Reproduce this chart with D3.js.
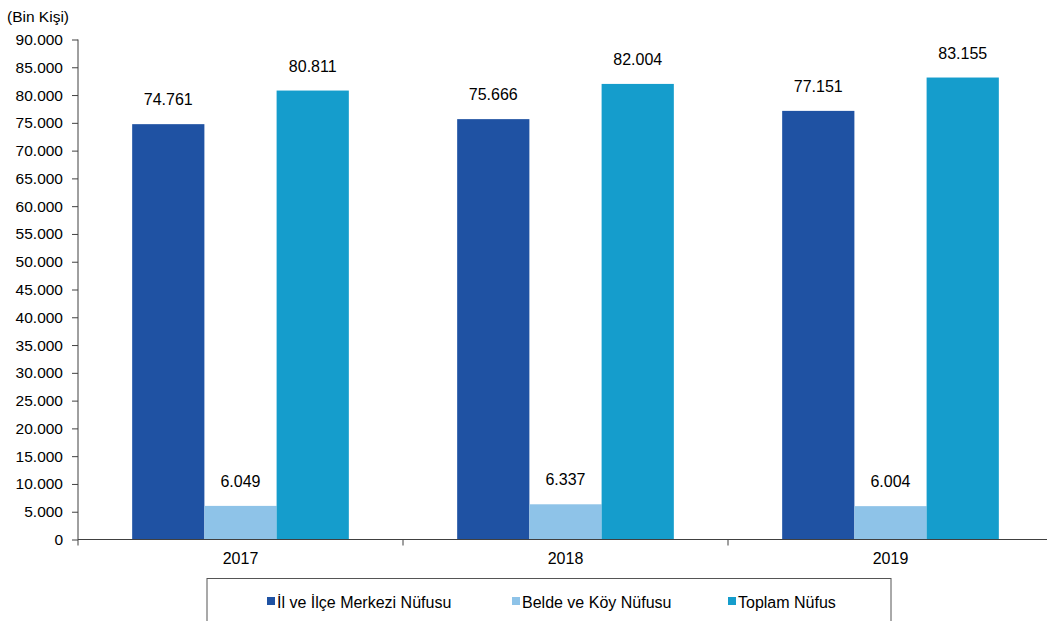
<!DOCTYPE html>
<html><head><meta charset="utf-8">
<script src="https://cdn.jsdelivr.net/npm/d3@7"></script>
<style>body{margin:0;background:#fff}svg{display:block}text{font-family:"Liberation Sans",Arial,sans-serif;fill:#000}</style>
</head><body><svg id="c" width="1047" height="621"></svg>
<script>
const years = ["2017","2018","2019"];
const seriesNames = ["İl ve İlçe Merkezi Nüfusu","Belde ve Köy Nüfusu","Toplam Nüfus"];
const ilIlce = [74761, 75666, 77151];
const beldeKoy = [6049, 6337, 6004];
const toplam = [80811, 82004, 83155];
const yTicks = [0,5000,10000,15000,20000,25000,30000,35000,40000,45000,50000,55000,60000,65000,70000,75000,80000,85000,90000];
const colors = ["#1F52A3","#8EC3E8","#159DCC"];
const series = [ilIlce, beldeKoy, toplam];

const svg = d3.select("#c");
const fmt = v => d3.format(",")(v).replace(/,/g,".");
const x0 = d3.scaleBand().domain(years).range([78,1053]).paddingInner(0).paddingOuter(0);
const x1 = d3.scaleBand().domain(d3.range(3)).range([0,x0.bandwidth()]).paddingInner(0).paddingOuter(0.75);
const y = d3.scaleLinear().domain([0,90000]).range([539.5,39.5]);

// bars
years.forEach((yr,i)=>{
  series.forEach((s,j)=>{
    const bx = x0(yr)+x1(j), by = y(s[i]);
    svg.append("rect").attr("x",bx).attr("y",by).attr("width",x1.bandwidth()).attr("height",y(0)-by).attr("fill",colors[j]);
    svg.append("text").attr("x",bx+x1.bandwidth()/2).attr("y",by-19).attr("text-anchor","middle").attr("font-size",16).text(fmt(s[i]));
  });
});

// y axis
const ya = svg.append("g").attr("transform","translate(78,0)").call(d3.axisLeft(y).tickValues(yTicks).tickFormat(fmt).tickSize(6).tickPadding(9));
ya.selectAll("text").attr("font-size",15.5).style("font-family","Liberation Sans, Arial, sans-serif");
ya.selectAll("line,path").attr("stroke","#404040");
ya.select(".domain").attr("d","M0,39.5V539.5");

// x axis
const xa = svg.append("g").attr("transform","translate(0,539.5)");
xa.append("line").attr("x1",78).attr("x2",1047).attr("stroke","#404040");
[...years.map(d=>x0(d)), x0.range()[1]].forEach(px=>{
  xa.append("line").attr("x1",px).attr("x2",px).attr("y1",0).attr("y2",6).attr("stroke","#404040");
});
years.forEach(yr=>{
  xa.append("text").attr("x",x0(yr)+x0.bandwidth()/2).attr("y",24).attr("text-anchor","middle").attr("font-size",16).text(yr);
});

// title
svg.append("text").attr("x",7).attr("y",22).attr("font-size",15.5).text("(Bin Kişi)");

// legend
svg.append("rect").attr("x",207).attr("y",578.5).attr("width",684).attr("height",60).attr("fill","none").attr("stroke","#555").attr("stroke-width",1);
const legX = [267, 512, 728];
seriesNames.forEach((n,j)=>{
  svg.append("rect").attr("x",legX[j]).attr("y",597).attr("width",8).attr("height",8).attr("fill",colors[j]);
  svg.append("text").attr("x",legX[j]+10).attr("y",607.5).attr("font-size",16).text(n);
});
</script></body></html>
